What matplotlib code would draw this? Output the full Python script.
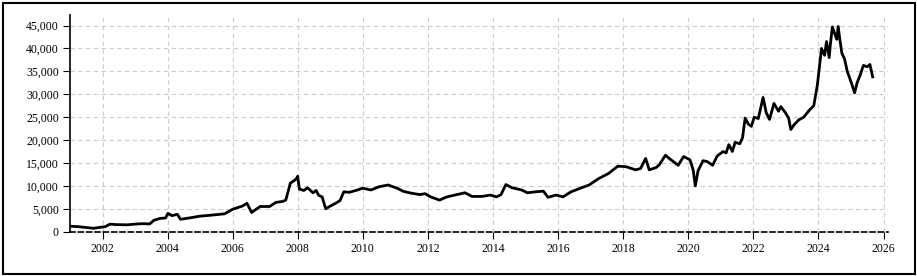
import matplotlib
matplotlib.use("Agg")
import matplotlib.pyplot as plt
import matplotlib.dates as mdates
import matplotlib.ticker as mticker
from matplotlib.patches import Rectangle
import pandas as pd

dates = [
    "2001-01-01", "2001-04-01", "2001-06-15", "2001-09-20", "2001-12-01", "2002-02-01",
    "2002-03-25", "2002-06-01", "2002-10-01", "2003-02-01", "2003-04-01", "2003-06-15",
    "2003-08-01", "2003-10-10", "2003-12-10", "2004-01-05", "2004-02-20", "2004-04-20",
    "2004-05-25", "2004-09-01", "2005-01-01", "2005-05-01", "2005-10-01", "2006-01-01",
    "2006-04-20", "2006-06-10", "2006-08-01", "2006-11-05", "2007-02-20", "2007-05-01",
    "2007-07-15", "2007-08-20", "2007-10-10", "2007-11-10", "2007-12-15", "2007-12-31",
    "2008-01-20", "2008-03-10", "2008-04-20", "2008-06-20", "2008-07-25", "2008-08-25",
    "2008-10-01", "2008-11-10", "2009-01-01", "2009-03-01", "2009-04-20", "2009-06-01",
    "2009-08-01", "2009-11-01", "2010-01-01", "2010-04-01", "2010-07-01", "2010-10-10",
    "2011-01-20", "2011-04-01", "2011-07-01", "2011-10-01", "2011-12-01", "2012-02-01",
    "2012-05-10", "2012-08-01", "2012-11-01", "2013-02-20", "2013-05-10", "2013-09-01",
    "2013-12-01", "2014-02-10", "2014-04-01", "2014-05-25", "2014-08-01", "2014-11-20",
    "2015-01-20", "2015-04-20", "2015-07-20", "2015-09-10", "2015-12-10", "2016-02-25",
    "2016-05-25", "2016-08-25", "2016-12-15", "2017-04-01", "2017-07-20", "2017-11-01",
    "2018-02-01", "2018-05-20", "2018-07-15", "2018-09-10", "2018-10-20", "2019-01-05",
    "2019-02-10", "2019-04-20", "2019-06-01", "2019-09-10", "2019-11-10", "2020-01-20",
    "2020-02-25", "2020-03-20", "2020-04-20", "2020-06-15", "2020-08-01", "2020-10-01",
    "2020-11-20", "2021-01-25", "2021-03-01", "2021-04-01", "2021-05-10", "2021-06-10",
    "2021-08-01", "2021-09-01", "2021-10-01", "2021-11-05", "2021-12-10", "2022-01-10",
    "2022-02-25", "2022-04-20", "2022-05-25", "2022-07-01", "2022-08-20", "2022-10-10",
    "2022-11-05", "2022-12-25", "2023-02-01", "2023-02-25", "2023-04-01", "2023-05-25",
    "2023-07-20", "2023-09-20", "2023-11-10", "2023-12-20", "2024-02-05", "2024-03-10",
    "2024-04-01", "2024-05-01", "2024-05-15", "2024-06-05", "2024-07-25", "2024-08-10",
    "2024-08-28", "2024-09-20", "2024-10-20", "2024-11-20", "2025-01-10", "2025-02-10",
    "2025-03-10", "2025-04-10", "2025-05-20", "2025-07-01", "2025-08-01", "2025-09-01",
]
values = [
    1200, 1100, 950, 750, 950, 1100,
    1650, 1550, 1500, 1700, 1750, 1700,
    2500, 2900, 3000, 4000, 3500, 3800,
    2700, 3000, 3400, 3600, 3900, 4900,
    5600, 6200, 4200, 5500, 5500, 6400,
    6600, 6900, 10600, 11000, 11500, 12100,
    9300, 9000, 9600, 8500, 9000, 7900,
    7600, 5000, 5600, 6200, 6800, 8700,
    8600, 9100, 9500, 9100, 9800, 10200,
    9500, 8800, 8400, 8100, 8300, 7600,
    6900, 7600, 8000, 8500, 7700, 7700,
    8000, 7600, 8100, 10300, 9600, 9100,
    8500, 8700, 8850, 7500, 8000, 7600,
    8700, 9400, 10200, 11600, 12700, 14300,
    14200, 13500, 13800, 16000, 13500, 14000,
    14600, 16700, 16000, 14500, 16400, 15700,
    13500, 10000, 13300, 15500, 15300, 14500,
    16500, 17500, 17200, 19000, 17500, 19500,
    19200, 20500, 24800, 23500, 23000, 25000,
    24700, 29300, 26000, 24500, 28000, 26300,
    27300, 26000, 24800, 22300, 23300, 24400,
    25000, 26500, 27500, 32000, 40000, 38500,
    41500, 38000, 41000, 44700, 42000, 44800,
    42000, 39000, 37700, 35000, 32200, 30300,
    32500, 34000, 36300, 36000, 36500, 33800,
]
y_ticks = [0, 5000, 10000, 15000, 20000, 25000, 30000, 35000, 40000, 45000]

plt.rcParams["font.family"] = ["Liberation Serif", "DejaVu Serif"]

fig = plt.figure(figsize=(9.17, 2.76), dpi=100)
ax = fig.add_axes([70 / 917, 1 - 231.7 / 276, (888 - 70) / 917, (231.7 - 15) / 276])

x = pd.to_datetime(dates)
ax.plot(x, values, color="black", linewidth=2.0, zorder=3)

ax.set_xlim(pd.Timestamp("2001-01-01"), pd.Timestamp("2026-02-20"))
ax.set_ylim(0, 47300)
ax.set_yticks(y_ticks)
ax.yaxis.set_major_formatter(mticker.FuncFormatter(lambda v, p: f"{int(v):,}"))
ax.xaxis.set_major_locator(mdates.YearLocator(2))
ax.xaxis.set_major_formatter(mdates.DateFormatter("%Y"))

ax.grid(True, color="#cccccc", linestyle=(0, (4, 3)), linewidth=0.8, zorder=0)
for s in ["top", "right"]:
    ax.spines[s].set_visible(False)
ax.spines["left"].set_linewidth(1.2)
ax.spines["bottom"].set_linestyle((0, (3, 2)))
ax.spines["bottom"].set_linewidth(1.2)
ax.tick_params(axis="both", labelsize=8.5, length=5, width=0.8, color="black", pad=3)

fig.patches.append(Rectangle((3 / 917, 2 / 276), 912 / 917, 271 / 276,
                             transform=fig.transFigure, fill=False,
                             edgecolor="black", linewidth=1.5))

fig.savefig("out.png", dpi=100)
